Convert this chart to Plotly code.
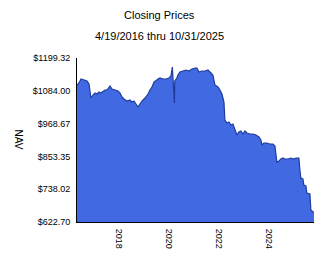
import plotly.graph_objects as go

dates = [
    "2016-04-19", "2016-05-18", "2016-06-17", "2016-07-31", "2016-09-13", "2016-10-12",
    "2016-11-10", "2016-12-10", "2017-01-08", "2017-02-07", "2017-03-08", "2017-04-06",
    "2017-05-06", "2017-06-04", "2017-07-03", "2017-08-02", "2017-08-17", "2017-09-15",
    "2017-10-29", "2017-12-12", "2018-01-11", "2018-02-09", "2018-03-10", "2018-04-23",
    "2018-06-06", "2018-07-06", "2018-08-04", "2018-09-02", "2018-10-02", "2018-10-31",
    "2018-11-29", "2019-01-13", "2019-02-26", "2019-03-27", "2019-04-25", "2019-05-25",
    "2019-06-23", "2019-07-23", "2019-08-21", "2019-10-04", "2019-11-17", "2019-12-31",
    "2020-01-29", "2020-02-19", "2020-03-20", "2020-03-25", "2020-04-25", "2020-05-11",
    "2020-06-09", "2020-07-23", "2020-09-06", "2020-10-20", "2020-12-03", "2021-01-16",
    "2021-02-14", "2021-03-16", "2021-04-29", "2021-06-12", "2021-07-26", "2021-08-24",
    "2021-10-07", "2021-11-06", "2021-12-20", "2022-01-18", "2022-02-16", "2022-03-03",
    "2022-03-18", "2022-04-01", "2022-05-01", "2022-05-30", "2022-06-28", "2022-07-28",
    "2022-08-26", "2022-09-25", "2022-10-24", "2022-11-22", "2022-12-22", "2023-01-20",
    "2023-02-18", "2023-04-03", "2023-05-18", "2023-07-01", "2023-08-14", "2023-09-12",
    "2023-09-27", "2023-10-26", "2023-12-09", "2024-01-22", "2024-03-07", "2024-04-05",
    "2024-05-04", "2024-06-03", "2024-07-02", "2024-07-31", "2024-08-30", "2024-10-13",
    "2024-11-26", "2025-01-09", "2025-02-08", "2025-03-23", "2025-04-07", "2025-04-21",
    "2025-05-21", "2025-06-04", "2025-07-04", "2025-07-18", "2025-09-01", "2025-09-15",
    "2025-10-15", "2025-10-31",
]

nav = [
    1104.4, 1111.4, 1125.5, 1121.9, 1118.4, 1107.9,
    1058.7, 1069.2, 1076.3, 1072.7, 1079.8, 1076.3,
    1083.3, 1086.8, 1086.8, 1097.4, 1100.9, 1090.3,
    1086.8, 1083.3, 1076.3, 1062.2, 1055.2, 1048.1,
    1051.6, 1044.6, 1048.1, 1037.6, 1027.0, 1037.6,
    1048.1, 1058.7, 1072.7, 1086.8, 1097.4, 1114.9,
    1121.9, 1125.5, 1129.0, 1125.5, 1125.5, 1129.0,
    1136.0, 1167.7, 1041.1, 1118.4, 1129.0, 1139.5,
    1150.1, 1153.6, 1157.1, 1153.6, 1160.6, 1164.2,
    1164.2, 1150.1, 1153.6, 1153.6, 1157.1, 1150.1,
    1139.5, 1104.4, 1097.4, 1086.8, 1072.7, 1058.7,
    1044.6, 981.3, 970.8, 974.3, 963.7, 967.3,
    946.2, 928.6, 939.1, 942.7, 932.1, 942.7,
    935.6, 932.1, 932.1, 928.6, 921.6, 911.0,
    893.4, 900.5, 900.5, 896.9, 896.9, 889.9,
    833.7, 837.2, 844.2, 847.7, 844.2, 844.2,
    847.7, 844.2, 847.7, 847.7, 805.5, 777.4,
    773.9, 752.8, 749.3, 724.7, 721.2, 664.9,
    657.9, 657.9,
]

y_ticks = [622.70, 738.02, 853.35, 968.67, 1084.00, 1199.32]
x_ticks = ["2018-01-01", "2020-01-01", "2022-01-01", "2024-01-01"]
x_tick_labels = ["2018", "2020", "2022", "2024"]

title_line1 = "Closing Prices"
title_line2 = "4/19/2016 thru 10/31/2025"
y_title = "NAV"

FONT = "Liberation Sans, Arial, sans-serif"

fig = go.Figure()
fig.add_trace(go.Scatter(
    x=dates, y=nav, mode="lines", fill="tozeroy",
    fillcolor="#4169E1", line=dict(color="#1e3c9c", width=1.2),
    hoverinfo="skip", showlegend=False,
))

fig.update_layout(
    width=324, height=267,
    margin=dict(l=77, r=10, t=58, b=45),
    paper_bgcolor="white", plot_bgcolor="white",
    font=dict(family=FONT, size=9, color="black"),
    xaxis=dict(
        range=["2016-04-19", "2025-10-31"],
        tickvals=x_ticks, ticktext=x_tick_labels, tickangle=90,
        showgrid=False, zeroline=False, showline=True, linecolor="black", linewidth=1,
        ticks="", ticklabelstandoff=4,
        tickfont=dict(family=FONT, size=9, color="black"),
    ),
    yaxis=dict(
        range=[y_ticks[0], y_ticks[-1]],
        tickvals=y_ticks, ticktext=["$%.2f" % v for v in y_ticks],
        showgrid=False, zeroline=False, showline=True, linecolor="black", linewidth=1,
        ticks="", ticklabelstandoff=4,
        tickfont=dict(family=FONT, size=9, color="black"),
    ),
    annotations=[
        dict(text=title_line1, xref="paper", yref="paper", x=0.35, y=1.262,
             xanchor="center", yanchor="middle", showarrow=False,
             font=dict(family=FONT, size=11, color="black")),
        dict(text=title_line2, xref="paper", yref="paper", x=0.35, y=1.134,
             xanchor="center", yanchor="middle", showarrow=False,
             font=dict(family=FONT, size=11, color="black")),
        dict(text=y_title, xref="paper", yref="paper", x=-0.243, y=0.5,
             xanchor="center", yanchor="middle", showarrow=False, textangle=90,
             font=dict(family=FONT, size=10, color="black")),
    ],
)

fig.write_html("out.html")
